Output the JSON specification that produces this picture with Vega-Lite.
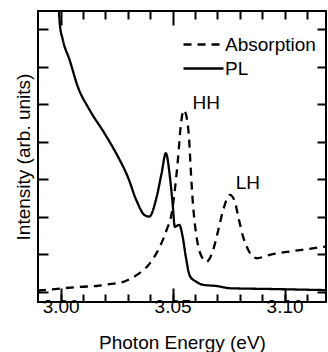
{
  "$schema": "https://vega.github.io/schema/vega-lite/v6.json",
  "width": 288,
  "height": 291,
  "autosize": {"type": "none"},
  "padding": {"left": 38, "top": 11, "right": 2, "bottom": 50},
  "config": {
    "font": "Liberation Sans",
    "view": {"stroke": "black", "strokeWidth": 2},
    "axis": {
      "domain": false,
      "grid": false,
      "tickColor": "black",
      "tickWidth": 2,
      "labelColor": "black",
      "titleColor": "black",
      "labelFontSize": 19,
      "titleFontSize": 19,
      "titleFontWeight": "normal",
      "labelFont": "Liberation Sans",
      "titleFont": "Liberation Sans"
    },
    "legend": {
      "labelFont": "Liberation Sans",
      "labelFontSize": 19,
      "labelColor": "black"
    }
  },
  "datasets": {
    "spectra": [
      {"series": "Absorption", "energy": 2.9899, "intensity": 0.04},
      {"series": "Absorption", "energy": 2.9925, "intensity": 0.05},
      {"series": "Absorption", "energy": 3.0012, "intensity": 0.10},
      {"series": "Absorption", "energy": 3.0101, "intensity": 0.14},
      {"series": "Absorption", "energy": 3.0161, "intensity": 0.16},
      {"series": "Absorption", "energy": 3.0220, "intensity": 0.21},
      {"series": "Absorption", "energy": 3.0280, "intensity": 0.27},
      {"series": "Absorption", "energy": 3.0339, "intensity": 0.45},
      {"series": "Absorption", "energy": 3.0399, "intensity": 0.77},
      {"series": "Absorption", "energy": 3.0443, "intensity": 1.21},
      {"series": "Absorption", "energy": 3.0473, "intensity": 1.65},
      {"series": "Absorption", "energy": 3.0496, "intensity": 2.10},
      {"series": "Absorption", "energy": 3.0510, "intensity": 2.72},
      {"series": "Absorption", "energy": 3.0525, "intensity": 3.61},
      {"series": "Absorption", "energy": 3.0536, "intensity": 4.41},
      {"series": "Absorption", "energy": 3.0550, "intensity": 4.85},
      {"series": "Absorption", "energy": 3.0565, "intensity": 4.59},
      {"series": "Absorption", "energy": 3.0574, "intensity": 4.05},
      {"series": "Absorption", "energy": 3.0582, "intensity": 3.17},
      {"series": "Absorption", "energy": 3.0592, "intensity": 2.27},
      {"series": "Absorption", "energy": 3.0607, "intensity": 1.47},
      {"series": "Absorption", "energy": 3.0630, "intensity": 0.94},
      {"series": "Absorption", "energy": 3.0652, "intensity": 0.81},
      {"series": "Absorption", "energy": 3.0681, "intensity": 1.12},
      {"series": "Absorption", "energy": 3.0704, "intensity": 1.65},
      {"series": "Absorption", "energy": 3.0726, "intensity": 2.19},
      {"series": "Absorption", "energy": 3.0756, "intensity": 2.59},
      {"series": "Absorption", "energy": 3.0778, "intensity": 2.41},
      {"series": "Absorption", "energy": 3.0793, "intensity": 2.01},
      {"series": "Absorption", "energy": 3.0815, "intensity": 1.47},
      {"series": "Absorption", "energy": 3.0838, "intensity": 1.12},
      {"series": "Absorption", "energy": 3.0875, "intensity": 0.90},
      {"series": "Absorption", "energy": 3.0934, "intensity": 0.99},
      {"series": "Absorption", "energy": 3.1060, "intensity": 1.11},
      {"series": "Absorption", "energy": 3.1184, "intensity": 1.21},
      {"series": "PL", "energy": 2.9992, "intensity": 7.60},
      {"series": "PL", "energy": 2.9996, "intensity": 7.17},
      {"series": "PL", "energy": 3.0010, "intensity": 6.72},
      {"series": "PL", "energy": 3.0040, "intensity": 6.19},
      {"series": "PL", "energy": 3.0077, "intensity": 5.47},
      {"series": "PL", "energy": 3.0130, "intensity": 4.85},
      {"series": "PL", "energy": 3.0196, "intensity": 4.23},
      {"series": "PL", "energy": 3.0256, "intensity": 3.61},
      {"series": "PL", "energy": 3.0300, "intensity": 3.07},
      {"series": "PL", "energy": 3.0338, "intensity": 2.45},
      {"series": "PL", "energy": 3.0375, "intensity": 2.05},
      {"series": "PL", "energy": 3.0396, "intensity": 2.01},
      {"series": "PL", "energy": 3.0429, "intensity": 2.54},
      {"series": "PL", "energy": 3.0451, "intensity": 3.17},
      {"series": "PL", "energy": 3.0470, "intensity": 3.70},
      {"series": "PL", "energy": 3.0488, "intensity": 3.07},
      {"series": "PL", "energy": 3.0500, "intensity": 2.37},
      {"series": "PL", "energy": 3.0510, "intensity": 1.74},
      {"series": "PL", "energy": 3.0530, "intensity": 1.79},
      {"series": "PL", "energy": 3.0545, "intensity": 1.47},
      {"series": "PL", "energy": 3.0559, "intensity": 0.94},
      {"series": "PL", "energy": 3.0577, "intensity": 0.43},
      {"series": "PL", "energy": 3.0607, "intensity": 0.27},
      {"series": "PL", "energy": 3.0637, "intensity": 0.19},
      {"series": "PL", "energy": 3.0696, "intensity": 0.16},
      {"series": "PL", "energy": 3.0756, "intensity": 0.10},
      {"series": "PL", "energy": 3.0934, "intensity": 0.08},
      {"series": "PL", "energy": 3.1184, "intensity": 0.05}
    ],
    "labels": [
      {"label": "HH", "energy": 3.0650, "intensity": 5.03},
      {"label": "LH", "energy": 3.0836, "intensity": 2.90}
    ]
  },
  "resolve": {"axis": {"x": "independent", "y": "independent"}},
  "layer": [
    {
      "data": {"name": "spectra"},
      "transform": [{"filter": "datum.series === 'Absorption'"}],
      "mark": {"type": "line", "color": "black", "strokeWidth": 2.3, "clip": true, "interpolate": "monotone"},
      "encoding": {
        "x": {
          "field": "energy", "type": "quantitative",
          "scale": {"domain": [2.9899, 3.1185], "nice": false, "zero": false},
          "axis": {"orient": "bottom", "values": [3.0, 3.05, 3.1], "format": ".2f", "tickSize": -14, "labelPadding": 9, "title": "Photon Energy (eV)", "titlePadding": 17}
        },
        "y": {
          "field": "intensity", "type": "quantitative",
          "scale": {"domain": [-0.267, 7.493], "nice": false, "zero": false},
          "axis": {"orient": "left", "values": [0, 1, 2, 3, 4, 5, 6, 7], "tickSize": -10, "labels": false, "title": "Intensity (arb. units)", "titlePadding": 4}
        },
        "strokeDash": {
          "field": "series", "type": "nominal",
          "scale": {"domain": ["Absorption", "PL"], "range": [[8, 6], [1, 0]]},
          "legend": {
            "title": null, "orient": "none", "legendX": 144, "legendY": 24,
            "symbolType": "stroke", "symbolSize": 1600, "symbolStrokeWidth": 2.3,
            "symbolStrokeColor": "black", "labelOffset": 0, "clipHeight": 19,
            "rowPadding": 4, "padding": 0
          }
        }
      }
    },
    {
      "data": {"name": "spectra"},
      "transform": [{"filter": "datum.series === 'PL'"}],
      "mark": {"type": "line", "color": "black", "strokeWidth": 2.3, "clip": true, "interpolate": "monotone"},
      "encoding": {
        "x": {
          "field": "energy", "type": "quantitative",
          "axis": {"orient": "bottom", "values": [3.0, 3.01, 3.02, 3.03, 3.04, 3.05, 3.06, 3.07, 3.08, 3.09, 3.1, 3.11], "tickSize": -8, "labels": false, "title": null}
        },
        "y": {
          "field": "intensity", "type": "quantitative",
          "axis": {"orient": "right", "values": [0, 1, 2, 3, 4, 5, 6, 7], "tickSize": -9, "labels": false, "title": null}
        },
        "strokeDash": {"field": "series", "type": "nominal"}
      }
    },
    {
      "data": {"name": "labels"},
      "transform": [{"filter": "datum.label === 'HH'"}],
      "mark": {"type": "text", "color": "black", "fontSize": 19, "font": "Liberation Sans", "align": "center", "baseline": "middle"},
      "encoding": {
        "x": {
          "field": "energy", "type": "quantitative",
          "axis": {"orient": "top", "values": [3.01, 3.02, 3.03, 3.04, 3.06, 3.07, 3.08, 3.09, 3.1, 3.11], "tickSize": -8, "labels": false, "title": null}
        },
        "y": {"field": "intensity", "type": "quantitative", "axis": null},
        "text": {"field": "label"}
      }
    },
    {
      "data": {"name": "labels"},
      "transform": [{"filter": "datum.label === 'LH'"}],
      "mark": {"type": "text", "color": "black", "fontSize": 19, "font": "Liberation Sans", "align": "center", "baseline": "middle"},
      "encoding": {
        "x": {
          "field": "energy", "type": "quantitative",
          "axis": {"orient": "top", "values": [3.0, 3.05], "tickSize": -14, "labels": false, "title": null}
        },
        "y": {"field": "intensity", "type": "quantitative", "axis": null},
        "text": {"field": "label"}
      }
    }
  ]
}
